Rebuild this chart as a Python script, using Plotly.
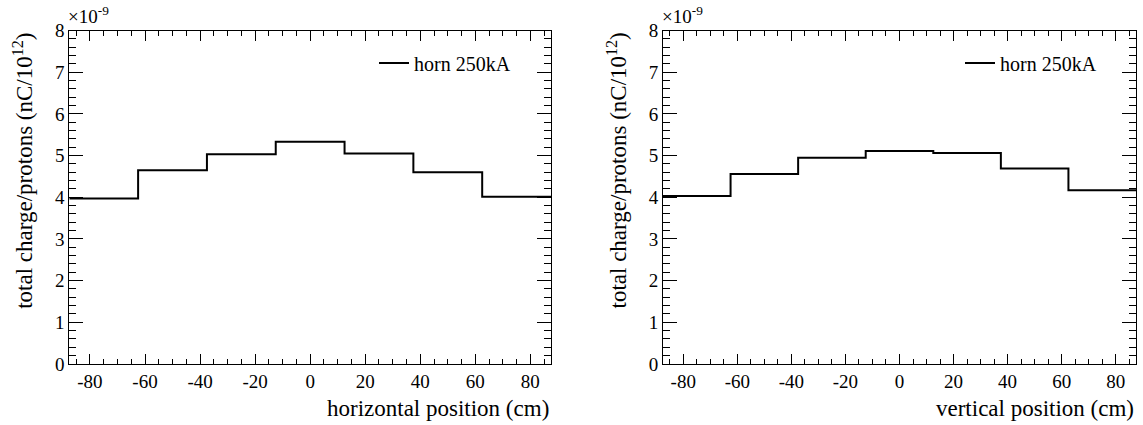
import plotly.graph_objects as go

# Bin edges (cm) shared by both histograms
bin_edges = [-87.5, -62.5, -37.5, -12.5, 12.5, 37.5, 62.5, 87.5]
# total charge / protons, in units of 1e-9 nC/10^12
horizontal_values = [3.97, 4.65, 5.03, 5.33, 5.05, 4.60, 4.01]
vertical_values = [4.03, 4.56, 4.95, 5.11, 5.06, 4.69, 4.17]
x_tick_values = [-80, -60, -40, -20, 0, 20, 40, 60, 80]
x_tick_labels = ["-80", "-60", "-40", "-20", "0", "20", "40", "60", "80"]
y_tick_values = [0, 1, 2, 3, 4, 5, 6, 7, 8]
y_tick_labels = ["0", "1", "2", "3", "4", "5", "6", "7", "8"]
legend_label = "horn 250kA"
x_titles = ["horizontal position (cm)", "vertical position (cm)"]
y_title = "total charge/protons (nC/10<sup>12</sup>)"
exponent_label = "×10<sup>-9</sup>"

W, H = 1143, 425
FONT = "'Liberation Serif', 'Times New Roman', 'DejaVu Serif', serif"

fig = go.Figure()

def step_y(vals):
    return list(vals) + [vals[-1]]

fig.add_trace(go.Scatter(x=bin_edges, y=step_y(horizontal_values), mode="lines",
                         line=dict(shape="hv", color="black", width=2),
                         name=legend_label, xaxis="x", yaxis="y", legend="legend"))
fig.add_trace(go.Scatter(x=bin_edges, y=step_y(vertical_values), mode="lines",
                         line=dict(shape="hv", color="black", width=2),
                         name=legend_label, xaxis="x2", yaxis="y2", legend="legend2"))

top_px, bot_px = 30.5, 364
ydom = [1 - bot_px / H, 1 - top_px / H]
xdoms = [[69.3 / W, 551 / W], [663 / W, 1136 / W]]

def xaxis(dom, anchor):
    return dict(domain=dom, anchor=anchor, range=[bin_edges[0], bin_edges[-1]],
                tickmode="array", tickvals=x_tick_values, ticktext=x_tick_labels,
                ticks="inside", ticklen=10, tickwidth=1,
                tickcolor="black", showline=True, linecolor="black", linewidth=1,
                mirror="ticks", showgrid=False, zeroline=False, automargin=False,
                tickfont=dict(family=FONT, size=19, color="black"),
                minor=dict(dtick=5, tick0=0, ticks="inside", ticklen=5, tickcolor="black",
                           tickwidth=1, showgrid=False))

def yaxis(anchor):
    return dict(domain=ydom, anchor=anchor, range=[0, 8],
                tickmode="array", tickvals=y_tick_values, ticktext=y_tick_labels,
                ticks="inside", ticklen=14, tickwidth=1, tickcolor="black",
                showline=True, linecolor="black", linewidth=1, mirror="ticks",
                showgrid=False, zeroline=False, automargin=False,
                tickfont=dict(family=FONT, size=19, color="black"),
                minor=dict(dtick=0.2, tick0=0, ticks="inside", ticklen=7, tickcolor="black",
                           tickwidth=1, showgrid=False))

annotations = []
for i, (dom, xt) in enumerate(zip(xdoms, x_titles)):
    annotations.append(dict(text=xt, xref="paper", yref="paper", x=dom[1], y=1 - 408 / H,
                            xanchor="right", yanchor="middle", showarrow=False,
                            font=dict(family=FONT, size=23, color="black")))
    annotations.append(dict(text=y_title, xref="paper", yref="paper",
                            x=(dom[0] * W - 46) / W, y=ydom[1], textangle=-90,
                            xanchor="center", yanchor="top", showarrow=False,
                            font=dict(family=FONT, size=23, color="black")))
    annotations.append(dict(text=exponent_label, xref="paper", yref="paper",
                            x=dom[0] - 3 / W, y=1 - 29 / H, xanchor="left", yanchor="bottom",
                            showarrow=False, font=dict(family=FONT, size=19, color="black")))

leg_common = dict(yanchor="middle", xanchor="left", bgcolor="rgba(0,0,0,0)",
                  borderwidth=0, font=dict(family=FONT, size=20, color="black"))

fig.update_layout(
    width=W, height=H, margin=dict(l=0, r=0, t=0, b=0, autoexpand=False),
    paper_bgcolor="white", plot_bgcolor="white",
    font=dict(family=FONT, color="black"),
    xaxis=xaxis(xdoms[0], "y"), yaxis=yaxis("x"),
    xaxis2=xaxis(xdoms[1], "y2"), yaxis2=yaxis("x2"),
    annotations=annotations,
    legend=dict(x=374 / W, y=1 - 63 / H, **leg_common),
    legend2=dict(x=960 / W, y=1 - 63 / H, **leg_common),
    showlegend=True,
)

fig.write_html("out.html", config={"displayModeBar": False},
               post_script="document.body.style.margin='0';document.body.style.padding='0';")
